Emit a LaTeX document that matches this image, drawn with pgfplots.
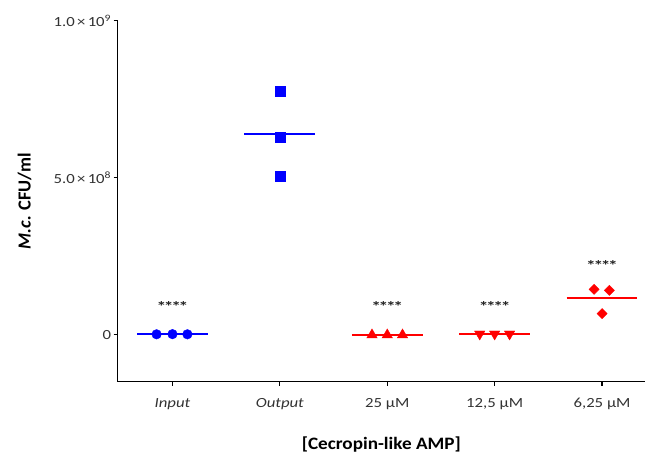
\documentclass[border=0pt]{standalone}
\usepackage{pgfplots}
\pgfplotsset{compat=1.18}
\usepackage{fontspec}
\setmainfont{Carlito}
\newfontfamily\widetick[FakeStretch=1.2]{Carlito}
\newfontfamily\widelab[FakeStretch=1.1]{Carlito}
\newfontfamily\widestar[FakeStretch=1.4]{Carlito}
\definecolor{lab}{HTML}{333333}
\definecolor{starc}{HTML}{222222}
\newcommand{\stars}{*\kern-0.17em*\kern-0.17em*\kern-0.17em*}
\newcommand{\yl}[1]{\mbox{\widetick\fontsize{14}{16}\selectfont #1}}
\begin{document}
\begin{tikzpicture}
\useasboundingbox (-117.7bp,-80.3bp) rectangle (530.3bp,381.7bp);
\begin{axis}[
  at={(0,0)}, anchor=south west,
  scale only axis, width=527.3bp, height=361bp,
  xmin=-0.51, xmax=4.4, ymin=-1.5e8, ymax=1e9,
  scaled y ticks=false,
  /pgf/number format/assume math mode=true,
  axis x line*=bottom, axis y line*=left,
  axis line style={line width=1.2pt, black},
  tick align=outside, major tick length=4bp,
  tick style={line width=1.2pt, black},
  xtick={0,1,2,3,4},
  xticklabels={\yl{\itshape Input},\yl{\itshape Output},\yl{25 µM},\yl{12,5 µM},\yl{6,25 µM}},
  ytick={0,5e8,1e9},
  yticklabels={\yl{0},\yl{5.0\,×\,10\textsuperscript{8}},\yl{1.0\,×\,10\textsuperscript{9}}},
  ticklabel style={font=\widetick\fontsize{14}{16}\selectfont, text=lab},
  xticklabel style={yshift=-9bp},
  yticklabel style={xshift=1bp},
  xlabel={[Cecropin-like AMP]},
  ylabel={{\itshape M.c.} CFU/ml},
  every axis x label/.style={at={([yshift=-63bp]axis description cs:0.5,0)}, anchor=center, font=\widelab\fontsize{17.5}{20}\selectfont\bfseries},
  every axis y label/.style={at={([xshift=-93bp]axis description cs:0,0.5)}, anchor=center, rotate=90, font=\fontsize{18.5}{22}\selectfont\bfseries},
  clip=false,
]
% Input
\addplot[blue, line width=2bp, forget plot] coordinates {(-0.33,1.2e6) (0.33,1.2e6)};
\addplot[only marks, mark=*, mark size=4.8bp, blue, mark options={fill=blue, draw=blue}] coordinates {(-0.148,1e6) (0,1.5e6) (0.139,1e6)};
% Output
\addplot[blue, line width=2bp, forget plot] coordinates {(0.67,6.38e8) (1.33,6.38e8)};
\addplot[only marks, mark=square*, mark size=5bp, blue, mark options={fill=blue, draw=blue}] coordinates {(1,7.74e8) (1,6.30e8) (1,5.06e8)};
% 25 uM
\addplot[red, line width=2bp, forget plot] coordinates {(1.67,0) (2.33,0)};
\addplot[only marks, mark=triangle*, mark size=6bp, red, mark options={fill=red, draw=red}] coordinates {(1.858,-1e6) (2,-1e6) (2.142,-1e6)};
% 12,5 uM
\addplot[red, line width=2bp, forget plot] coordinates {(2.67,1.5e6) (3.33,1.5e6)};
\addplot[only marks, mark=triangle*, mark size=6bp, red, mark options={fill=red, draw=red, rotate=180}] coordinates {(2.861,2e6) (3,2e6) (3.139,2e6)};
% 6,25 uM
\addplot[red, line width=2bp, forget plot] coordinates {(3.67,1.18e8) (4.33,1.18e8)};
\addplot[only marks, mark=square*, mark size=3.6bp, red, mark options={fill=red, draw=red, rotate=45}] coordinates {(3.926,1.444e8) (4.068,1.41e8) (4,0.67e8)};
% significance
\node[font=\widestar\fontsize{14}{16}\selectfont\bfseries, text=starc, anchor=base] at (axis cs:0,0.73e8) {\stars};
\node[font=\widestar\fontsize{14}{16}\selectfont\bfseries, text=starc, anchor=base] at (axis cs:2,0.73e8) {\stars};
\node[font=\widestar\fontsize{14}{16}\selectfont\bfseries, text=starc, anchor=base] at (axis cs:3,0.73e8) {\stars};
\node[font=\widestar\fontsize{14}{16}\selectfont\bfseries, text=starc, anchor=base] at (axis cs:4,2.03e8) {\stars};
\end{axis}
\end{tikzpicture}
\end{document}
